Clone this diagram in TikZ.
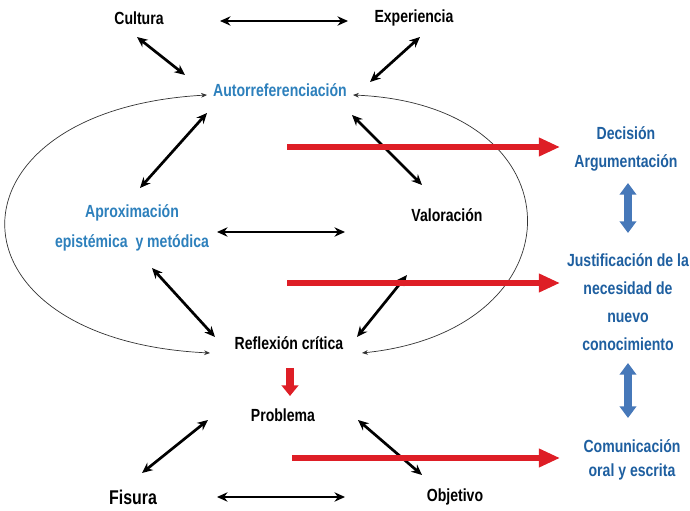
\documentclass[tikz,border=0pt]{standalone}
\usepackage{fontspec}
\newfontfamily\diagfont{Liberation Sans}[FakeStretch=0.8]
\usepackage{tikz}
\usetikzlibrary{arrows.meta, calc, positioning}
\definecolor{refblue}{RGB}{45,128,188}
\definecolor{coldblue}{RGB}{30,95,160}
\definecolor{barblue}{RGB}{70,120,185}
\definecolor{barred}{RGB}{222,30,38}

\begin{document}
\begin{tikzpicture}[x=0.03cm, y=-0.03cm,
	lbl/.style={font=\diagfont\bfseries\fontsize{15}{24}\selectfont, align=center, inner sep=0pt},
	bluelbl/.style={lbl, text=refblue},
	collbl/.style={lbl, text=coldblue},
	dbl/.style={{Stealth[length=9pt 0 1, width=8pt 0 1]}-{Stealth[length=9pt 0 1, width=8pt 0 1]}, line width=2.3pt},
	loop/.style={{Stealth[length=5pt 0 1, width=4pt 0 1]}-{Stealth[length=5pt 0 1, width=4pt 0 1]}, line width=0.6pt, black!80},
	redarr/.style={-{Triangle[length=18pt 0 1, width=15pt 0 1]}, line width=4.3pt, barred},
	downarr/.style={-{Triangle[length=9pt 0 1, width=14pt 0 1]}, line width=7.5pt, barred},
	vbar/.style={{Triangle[length=10pt 0 1, width=14pt 0 1]}-{Triangle[length=10pt 0 1, width=14pt 0 1]}, line width=6pt, barblue}]
	\useasboundingbox (0,0) rectangle (690,511);
	% central loop
	\node[lbl] (cul) at (139,18) {Cultura};
	\node[lbl] (exp) at (414,18) {Experiencia};
	\node[bluelbl] (aut) at (280,90) {Autorreferenciación};
	\node[bluelbl, font=\diagfont\bfseries\fontsize{15}{25}\selectfont] (apr) at (132,228) {Aproximación\\epistémica~ y metódica};
	\node[lbl] (val) at (447,215) {Valoración};
	\node[lbl] (ref) at (289,343) {Reflexión crítica};
	\node[lbl] (pro) at (283,415) {Problema};
	\node[lbl, font=\diagfont\bfseries\fontsize{17}{20}\selectfont] (fis) at (133,497) {Fisura};
	\node[lbl] (obj) at (455,497) {Objetivo};
	% right column
	\node[collbl] (dec) at (626,149) {Decisión\\Argumentación};
	\node[collbl] (jus) at (628,302) {Justificación de la\\necesidad de\\nuevo\\conocimiento};
	\node[collbl, font=\diagfont\bfseries\fontsize{15}{21}\selectfont] (com) at (632,460) {Comunicación\\oral y escrita};
	\coordinate (r1) at (287,147);
	\coordinate (r2) at (287,283);
	\coordinate (r3) at (292,458);
	\draw[dbl] ([shift={(81,3)}]cul.center) -- ([shift={(-66,3)}]exp.center);
	\draw[dbl] ([shift={(-2,19)}]cul.center) -- ([shift={(-95,-15)}]aut.center);
	\draw[dbl] ([shift={(6,19)}]exp.center) -- ([shift={(90,-8)}]aut.center);
	\draw[dbl] ([shift={(-73,23)}]aut.center) -- ([shift={(8,-40)}]apr.center);
	\draw[dbl] ([shift={(72,25)}]aut.center) -- ([shift={(-25,-30)}]val.center);
	\draw[dbl] ([shift={(85,4)}]apr.center) -- ([shift={(-102,17)}]val.center);
	\draw[dbl] ([shift={(20,40)}]apr.center) -- ([shift={(-74,-6)}]ref.center);
	\draw[dbl] ([shift={(-40,60)}]val.center) -- ([shift={(68,-6)}]ref.center);
	\draw[dbl] ([shift={(-75,5)}]pro.center) -- ([shift={(9,-24)}]fis.center);
	\draw[dbl] ([shift={(75,5)}]pro.center) -- ([shift={(-33,-22)}]obj.center);
	\draw[dbl] ([shift={(84,0)}]fis.center) -- ([shift={(-110,0)}]obj.center);
	% ellipse halves
	\draw[loop] ([shift={(-73,5)}]aut.center) .. controls (-62,110) and (-62,340) .. ([shift={(-79,10)}]ref.center);
	\draw[loop] ([shift={(73,5)}]aut.center) .. controls (583,105) and (583,330) .. ([shift={(73,10)}]ref.center);
	% red arrows
	\draw[downarr] ([shift={(1,25)}]ref.center) -- ([shift={(7,-19)}]pro.center);
	\draw[redarr] (r1) -- ([shift={(-66,-2)}]dec.center);
	\draw[redarr] (r2) -- ([shift={(-68,-19)}]jus.center);
	\draw[redarr] (r3) -- ([shift={(-72,-2)}]com.center);
	% blue arrows
	\draw[vbar] ([shift={(2,34)}]dec.center) -- ([shift={(0,-69)}]jus.center);
	\draw[vbar] ([shift={(0,61)}]jus.center) -- ([shift={(-4,-42)}]com.center);
\end{tikzpicture}
\end{document}
